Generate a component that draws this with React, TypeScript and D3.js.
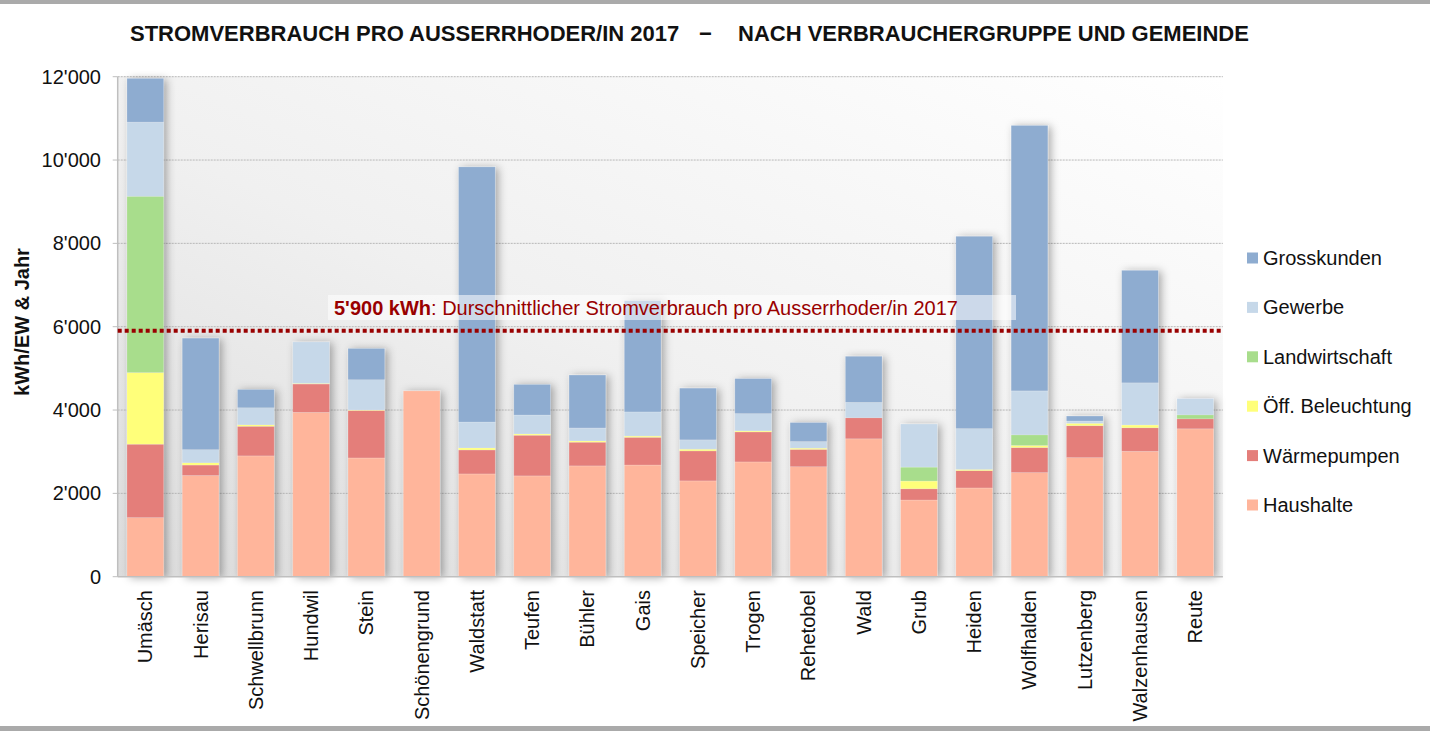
import * as d3 from "d3";

const gemeinden = [
  "Umäsch", "Herisau", "Schwellbrunn", "Hundwil", "Stein", "Schönengrund",
  "Waldstatt", "Teufen", "Bühler", "Gais", "Speicher", "Trogen", "Rehetobel",
  "Wald", "Grub", "Heiden", "Wolfhalden", "Lutzenberg", "Walzenhausen", "Reute",
];

const haushalte = [1420, 2430, 2900, 3945, 2850, 4460, 2467, 2420, 2660, 2680, 2300, 2755, 2640, 3310, 1840, 2130, 2500, 2858, 3010, 3550];
const waermepumpen = [1760, 250, 710, 680, 1140, 0, 575, 975, 568, 665, 720, 720, 415, 505, 270, 415, 600, 766, 565, 240];
const beleuchtung = [1720, 55, 35, 15, 12, 0, 48, 30, 30, 30, 40, 25, 30, 0, 185, 30, 50, 57, 65, 0];
const landwirtschaft = [4230, 0, 0, 0, 0, 0, 0, 0, 0, 0, 0, 0, 0, 0, 335, 0, 255, 0, 0, 95];
const gewerbe = [1780, 315, 410, 995, 726, 0, 622, 455, 312, 580, 225, 415, 160, 370, 1035, 980, 1055, 55, 1013, 390];
const grosskunden = [1050, 2675, 440, 0, 750, 0, 6124, 735, 1270, 2670, 1240, 840, 455, 1105, 0, 4615, 6370, 120, 2700, 0];

const yTicks = [0, 2000, 4000, 6000, 8000, 10000, 12000];
const durchschnitt = 5900;

// bottom to top
const gruppen = [
  { key: "Haushalte", values: haushalte, color: "#FFB59B" },
  { key: "Wärmepumpen", values: waermepumpen, color: "#E47E7A" },
  { key: "Öff. Beleuchtung", values: beleuchtung, color: "#FFFF7A" },
  { key: "Landwirtschaft", values: landwirtschaft, color: "#A8DD8C" },
  { key: "Gewerbe", values: gewerbe, color: "#C6D8E9" },
  { key: "Grosskunden", values: grosskunden, color: "#8EACD0" },
];

const FONT = "'Liberation Sans', Arial, sans-serif";
const W = 1430, H = 731;
const margin = { left: 117.7, right: 1222.9, top: 76.7, bottom: 576.7 };

export default function App() {
  const rows = gemeinden.map((g, i) => {
    const r: any = { name: g };
    gruppen.forEach((s) => (r[s.key] = s.values[i]));
    return r;
  });
  const stack = d3.stack<any>().keys(gruppen.map((g) => g.key));
  const series = stack(rows);

  const x = d3.scaleBand<string>()
    .domain(gemeinden)
    .range([margin.left, margin.right])
    .paddingInner(0.336)
    .paddingOuter(0.168);
  const y = d3.scaleLinear().domain([0, 12000]).range([margin.bottom, margin.top]);
  const fmt = (v: number) => d3.format(",")(v).replace(/,/g, "'");

  const legendItems = gruppen.slice().reverse();

  return (
    <svg width={W} height={H} style={{ position: "absolute", left: 0, top: 0, background: "#fff" }}>
      <defs>
        <linearGradient id="plotbg" x1="100%" y1="0%" x2="0%" y2="100%">
          <stop offset="0%" stopColor="#ffffff" />
          <stop offset="55%" stopColor="#f0f0f0" />
          <stop offset="100%" stopColor="#dcdcdc" />
        </linearGradient>
        <filter id="shadow" x="-50%" y="-10%" width="200%" height="120%">
          <feDropShadow dx="3" dy="1" stdDeviation="4" floodColor="#000" floodOpacity="0.33" />
        </filter>
      </defs>

      <rect x={0} y={0} width={W} height={4} fill="#aaaaaa" />
      <rect x={0} y={726} width={W} height={5} fill="#aaaaaa" />

      <text y={41} fontFamily={FONT} fontSize={22} fontWeight="bold" fill="#111">
        <tspan x={130}>STROMVERBRAUCH PRO AUSSERRHODER/IN 2017</tspan>
        <tspan x={699}>−</tspan>
        <tspan x={738}>NACH VERBRAUCHERGRUPPE UND GEMEINDE</tspan>
      </text>

      <rect x={margin.left} y={margin.top} width={margin.right - margin.left} height={margin.bottom - margin.top} fill="url(#plotbg)" />

      {yTicks.map((t) => (
        <g key={t}>
          {t > 0 && (
            <line x1={margin.left} x2={margin.right} y1={y(t)} y2={y(t)} stroke="#b8b8b8" strokeWidth={1} strokeDasharray="2,1" />
          )}
          <line x1={margin.left - 5} x2={margin.left} y1={y(t)} y2={y(t)} stroke="#bfbfbf" />
          <text x={101} y={y(t)} dy="0.35em" textAnchor="end" fontFamily={FONT} fontSize={20} fill="#111">
            {fmt(t)}
          </text>
        </g>
      ))}

      {gemeinden.map((g, i) => (
        <g key={g} filter="url(#shadow)">
          {series.map((s, si) => {
            const d = s[i];
            const h = y(d[0]) - y(d[1]);
            if (h <= 0) return null;
            return (
              <rect key={si} x={x(g)} y={y(d[1])} width={x.bandwidth()} height={h}
                fill={gruppen[si].color} stroke="#ffffff" strokeOpacity={0.25} strokeWidth={0.7} />
            );
          })}
        </g>
      ))}

      <line x1={margin.left} x2={margin.left} y1={margin.top} y2={margin.bottom} stroke="#bfbfbf" strokeWidth={1.5} />
      <line x1={margin.left} x2={margin.right} y1={margin.bottom} y2={margin.bottom} stroke="#bfbfbf" strokeWidth={1.5} />

      <rect x={328} y={295} width={688} height={25} fill="#ffffff" fillOpacity={0.55} />
      <line x1={margin.left} x2={margin.right} y1={y(durchschnitt)} y2={y(durchschnitt)}
        stroke="#990000" strokeWidth={4} strokeDasharray="4,3" />
      <text x={334} y={315} fontFamily={FONT} fontSize={20} fill="#990000">
        <tspan fontWeight="bold">{fmt(durchschnitt)} kWh</tspan>
        <tspan>: Durschnittlicher Stromverbrauch pro Ausserrhoder/in 2017</tspan>
      </text>

      {gemeinden.map((g) => {
        const cx = (x(g) as number) + x.bandwidth() / 2;
        return (
          <text key={g} transform={`translate(${cx},590) rotate(-90)`} dy="0.35em" textAnchor="end"
            fontFamily={FONT} fontSize={20} fill="#111">
            {g}
          </text>
        );
      })}

      <text transform="translate(29,322) rotate(-90)" textAnchor="middle" fontFamily={FONT} fontSize={20} fontWeight="bold" fill="#111">
        kWh/EW &amp; Jahr
      </text>

      {legendItems.map((s, i) => {
        const cy = 258 + i * 49.4;
        return (
          <g key={s.key}>
            <rect x={1247} y={cy - 5.5} width={11} height={11} fill={s.color} />
            <text x={1263} y={cy} dy="0.35em" fontFamily={FONT} fontSize={20} fill="#111">{s.key}</text>
          </g>
        );
      })}
    </svg>
  );
}
